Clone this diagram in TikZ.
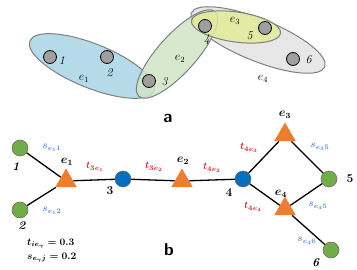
\documentclass[tikz,border=0pt]{standalone}
\usepackage{tikz}
\usepackage{amssymb}
\usetikzlibrary{shapes.geometric}
\definecolor{hblue}{HTML}{A8D5E6}
\definecolor{hgreen}{HTML}{CFE5C6}
\definecolor{hyellow}{HTML}{E2EA98}
\definecolor{hgray}{HTML}{E3E3E3}
\definecolor{hline}{HTML}{7F7F7F}
\definecolor{vorange}{HTML}{ED7D31}
\definecolor{vblue}{HTML}{0070C0}
\definecolor{vgreen}{HTML}{70AD47}
\definecolor{tred}{HTML}{E0202A}
\definecolor{sblue}{HTML}{5B8BD6}
\tikzset{
  hedge/.style={draw=hline,line width=1pt,fill opacity=0.85},
  vtx/.style={circle,draw=black,line width=0.8pt,fill=gray!75,minimum size=13pt,inner sep=0pt},
  lbl/.style={inner sep=0pt,font=\large},
  gnode/.style={circle,draw=black!60,line width=0.5pt,fill=vgreen,minimum size=16pt,inner sep=0pt},
  bnode/.style={circle,draw=black!60,line width=0.5pt,fill=vblue,minimum size=16pt,inner sep=0pt},
  tri/.style={regular polygon,regular polygon sides=3,fill=vorange,minimum size=25pt,inner sep=0pt},
  link/.style={line width=1.3pt,draw=black},
  tlbl/.style={inner sep=0pt,text=tred,font=\normalsize\boldmath},
  slbl/.style={inner sep=0pt,text=sblue,font=\normalsize\boldmath},
  nlbl/.style={inner sep=0pt,font=\large\bfseries\boldmath}
}
\begin{document}
\begin{tikzpicture}[x=1pt,y=-1pt]
\useasboundingbox (0,0) rectangle (357,270);
% (a) hypergraph
\draw[hedge,fill=hgray,shift={(258,40)},rotate=-22] (0,0) ellipse [x radius=72,y radius=21];
\draw[hedge,fill=hblue,shift={(92,66)},rotate=-22] (0,0) ellipse [x radius=67,y radius=22];
\draw[hedge,fill=hgreen,shift={(177,54)},rotate=48] (0,0) ellipse [x radius=57,y radius=19];
\draw[hedge,fill=hyellow,shift={(236,27)},rotate=-8] (0,0) ellipse [x radius=45,y radius=15];
\node[vtx] (a1) at (50,57) {};
\node[vtx] (a2) at (107,57) {};
\node[vtx] (a3) at (149,81) {};
\node[vtx] (a4) at (205,26) {};
\node[vtx] (a5) at (265,28) {};
\node[vtx] (a6) at (293,59) {};
\node[lbl] (la1) at (62,61) {\textit{1}};
\node[lbl] (la2) at (110,73) {\textit{2}};
\node[lbl] (la3) at (165,82) {\textit{3}};
\node[lbl] (la4) at (207,40) {\textit{4}};
\node[lbl] (la5) at (250,36) {\textit{5}};
\node[lbl] (la6) at (309,60) {\textit{6}};
\node[lbl] (le1) at (84,79) {$e_1$};
\node[lbl] (le2) at (180,59) {$e_2$};
\node[lbl] (le3) at (235,21) {$e_3$};
\node[lbl] (le4) at (263,79) {$e_4$};
\node[lbl,font=\LARGE\bfseries\sffamily] (capa) at (168,118) {a};
% (b) bipartite graph
\node[gnode] (v1) at (20,148) {};
\node[gnode] (v2) at (20,210) {};
\node[bnode] (v3) at (123,179) {};
\node[bnode] (v4) at (243,179) {};
\node[gnode] (v5) at (329,179) {};
\node[gnode] (v6) at (331,250) {};
\node[tri] (e1) at (66,181) {};
\node[tri] (e2) at (182,181) {};
\node[tri] (e3) at (285,135) {};
\node[tri] (e4) at (285,209) {};
\draw[link] (v1) -- (e1) (v2) -- (e1) (e1) -- (v3) (v3) -- (e2) (e2) -- (v4)
  (v4) -- (e3) (e3) -- (v5) (v4) -- (e4) (e4) -- (v5) (e4) -- (v6);
\node[nlbl] (lb1) at (16,167) {\textit{1}};
\node[nlbl] (lb2) at (22,226) {\textit{2}};
\node[nlbl] (lb3) at (110,191) {3};
\node[nlbl] (lb4) at (229,193) {4};
\node[nlbl] (lb5) at (350,179) {5};
\node[nlbl] (lb6) at (316,263) {\textit{6}};
\node[nlbl] (lbe1) at (67,162) {$e_1$};
\node[nlbl] (lbe2) at (183,161) {$e_2$};
\node[nlbl] (lbe3) at (285,115) {$e_3$};
\node[nlbl] (lbe4) at (281,194) {$e_4$};
\node[slbl] (s11) at (52,148) {$s_{e_1 1}$};
\node[slbl] (s12) at (52,211) {$s_{e_1 2}$};
\node[tlbl] (t31) at (95,167) {$t_{3e_1}$};
\node[tlbl] (t32) at (154,167) {$t_{3e_2}$};
\node[tlbl] (t42) at (212,168) {$t_{4e_2}$};
\node[tlbl] (t43) at (249,148) {$t_{4e_3}$};
\node[tlbl] (t44) at (253,207) {$t_{4e_4}$};
\node[slbl] (s35) at (320,147) {$s_{e_3 5}$};
\node[slbl] (s45) at (318,206) {$s_{e_4 5}$};
\node[slbl] (s46) at (307,241) {$s_{e_4 6}$};
\node[nlbl,anchor=west,font=\normalsize\bfseries\boldmath] (tval) at (27,244) {$t_{ie_\gamma}=0.3$};
\node[nlbl,anchor=west,font=\normalsize\bfseries\boldmath] (sval) at (27,258) {$s_{e_\gamma j}=0.2$};
\node[lbl,font=\LARGE\bfseries\sffamily] (capb) at (169,250) {b};
\end{tikzpicture}
\end{document}
